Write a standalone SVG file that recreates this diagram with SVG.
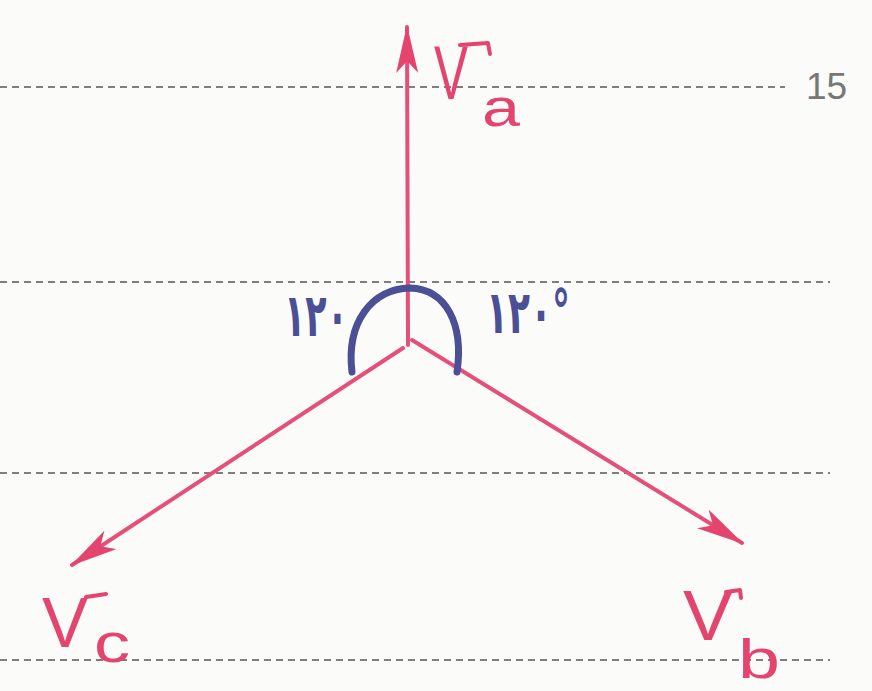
<svg xmlns="http://www.w3.org/2000/svg" width="872" height="691" viewBox="0 0 872 691">
  <defs>
    <style>
      .rule { stroke: #555; stroke-width: 1.6; stroke-dasharray: 7 5; fill: none; }
      .phasor { stroke: #e5507a; stroke-width: 4; fill: none; stroke-linecap: round; }
      .lbl { fill: #e3456f; font-family: "Liberation Sans", "DejaVu Sans", sans-serif; }
      .bar { stroke: #e3456f; stroke-width: 4; fill: none; stroke-linecap: round; stroke-linejoin: round; }
      .ang { fill: #4b4f96; font-family: "DejaVu Sans", "Noto Sans", sans-serif; font-weight: bold; }
      .arc { stroke: #4b4f96; stroke-width: 7; fill: none; stroke-linecap: round; }
      .pagenum { fill: #777; font-family: "Liberation Sans", Arial, sans-serif; font-size: 37px; }
    </style>
    <marker id="head" viewBox="0 0 48 22" refX="46" refY="11" markerWidth="48" markerHeight="22" markerUnits="userSpaceOnUse" orient="auto">
      <path d="M0,0 L48,11 L0,22 L12,11 z" fill="#e3456f"/>
    </marker>
  </defs>
  <rect x="0" y="0" width="872" height="691" fill="#fbfbfa"/>

  <g id="ruled-lines">
    <line class="rule" x1="0" y1="87" x2="785" y2="87"/>
    <line class="rule" x1="0" y1="282" x2="830" y2="282"/>
    <line class="rule" x1="0" y1="473" x2="830" y2="473"/>
    <line class="rule" x1="0" y1="660" x2="830" y2="660"/>
    <text class="pagenum" x="806" y="99">15</text>
  </g>

  <g id="connectors">
    <line id="Va-arrow" class="phasor" x1="408" y1="345" x2="407" y2="27" marker-end="url(#head)"/>
    <line id="Vc-arrow" class="phasor" x1="403" y1="348" x2="72" y2="565" marker-end="url(#head)"/>
    <line id="Vb-arrow" class="phasor" x1="412" y1="340" x2="742" y2="543" marker-end="url(#head)"/>
  </g>

  <g id="angle-arc">
    <path class="arc" d="M352,372 C346,322 372,289 410,288 C446,289 464,324 457,372"/>
  </g>

  <g id="angle-left">
    <text class="ang" x="284" y="336" font-size="60" textLength="64" lengthAdjust="spacingAndGlyphs">۱۲۰</text>
  </g>
  <g id="angle-right">
    <text class="ang" x="486" y="333" font-size="60" textLength="84" lengthAdjust="spacingAndGlyphs">۱۲۰°</text>
  </g>

  <g id="label-Va">
    <text class="lbl" x="434" y="99" font-size="76" textLength="34" lengthAdjust="spacingAndGlyphs">V</text>
    <path class="bar" d="M460,45 L488,43 L490,54"/>
    <text class="lbl" x="482" y="126" font-size="54" textLength="38" lengthAdjust="spacingAndGlyphs">a</text>
  </g>

  <g id="label-Vc">
    <text class="lbl" x="42" y="647" font-size="70" textLength="46" lengthAdjust="spacingAndGlyphs">V</text>
    <path class="bar" d="M86,597 L106,594"/>
    <text class="lbl" x="94" y="662" font-size="56" textLength="36" lengthAdjust="spacingAndGlyphs">c</text>
  </g>

  <g id="label-Vb">
    <text class="lbl" x="683" y="640" font-size="70" textLength="50" lengthAdjust="spacingAndGlyphs">V</text>
    <path class="bar" d="M726,592 L740,590 L741,598"/>
    <text class="lbl" x="738" y="678" font-size="56" textLength="42" lengthAdjust="spacingAndGlyphs">b</text>
  </g>
</svg>
